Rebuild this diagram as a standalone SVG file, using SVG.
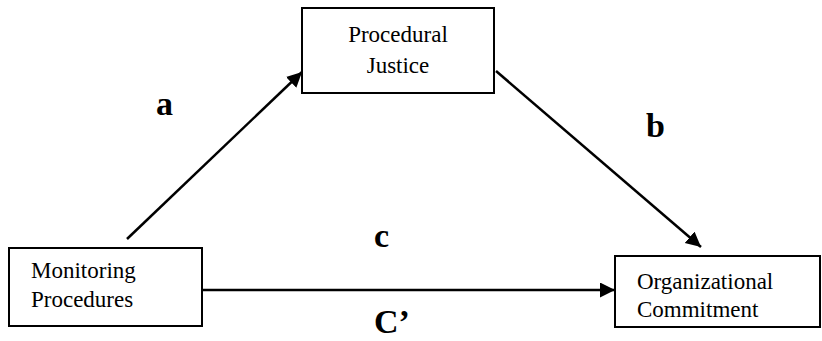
<svg xmlns="http://www.w3.org/2000/svg" width="822" height="341" viewBox="0 0 822 341">
<style>
.box{fill:#fff;stroke:#000;stroke-width:2}
.t{font-family:"Liberation Serif","Times New Roman",serif;font-size:23px;fill:#000}
.lbl{font-family:"Liberation Serif","Times New Roman",serif;font-size:34px;font-weight:bold;fill:#000}
.conn{stroke:#000;stroke-width:2.5;fill:none}
</style>
<defs>
<marker id="ah" markerUnits="userSpaceOnUse" markerWidth="16" markerHeight="16" refX="15" refY="7.5" orient="auto">
<path d="M0,0 L15,7.5 L0,15 Z" fill="#000"/>
</marker>
</defs>
<rect width="822" height="341" fill="#fff"/>
<g id="connectors">
<line class="conn" x1="127" y1="239" x2="302" y2="72" marker-end="url(#ah)"/>
<line class="conn" x1="496" y1="71" x2="701" y2="247" marker-end="url(#ah)"/>
<line class="conn" x1="202" y1="290" x2="615" y2="290" marker-end="url(#ah)"/>
</g>
<g id="node-procedural-justice">
<rect class="box" x="302" y="8" width="192" height="85"/>
<text class="t" x="398" y="42" text-anchor="middle">Procedural</text>
<text class="t" x="398" y="73" text-anchor="middle">Justice</text>
</g>
<g id="node-monitoring-procedures">
<rect class="box" x="9" y="248" width="193" height="78"/>
<text class="t" x="31" y="278">Monitoring</text>
<text class="t" x="31" y="307">Procedures</text>
</g>
<g id="node-organizational-commitment">
<rect class="box" x="615" y="256" width="205" height="71"/>
<text class="t" x="637" y="289">Organizational</text>
<text class="t" x="637" y="317">Commitment</text>
</g>
<g id="labels">
<text class="lbl" x="156" y="115">a</text>
<text class="lbl" x="646" y="137">b</text>
<text class="lbl" x="374" y="247">c</text>
<text class="lbl" x="374" y="333">C’</text>
</g>
</svg>
